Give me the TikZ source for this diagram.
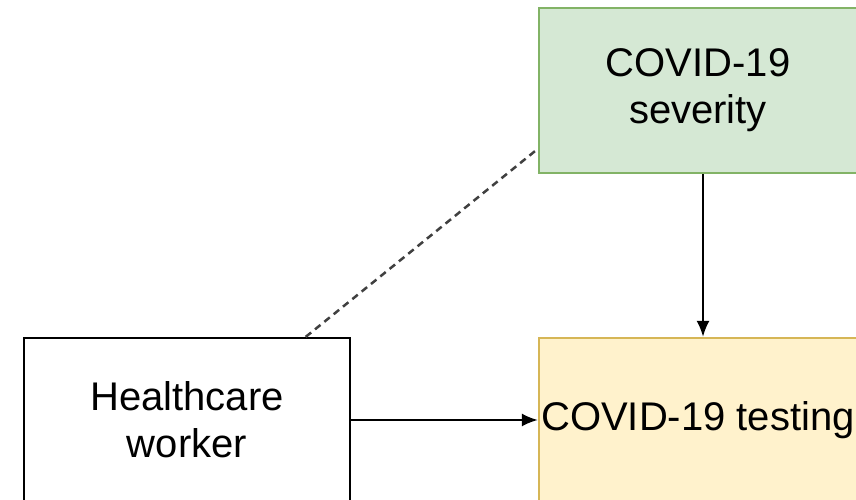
\documentclass[tikz,border=0pt]{standalone}
\usepackage{fontspec}
\setmainfont{Liberation Sans}
\usetikzlibrary{arrows.meta}
\definecolor{sevfill}{HTML}{D5E8D4}
\definecolor{sevline}{HTML}{82B366}
\definecolor{testfill}{HTML}{FFF2CC}
\definecolor{testline}{HTML}{D6B656}
\definecolor{dashgray}{HTML}{404040}

\begin{document}
\begin{tikzpicture}[x=1pt, y=1pt,
  every node/.style={font=\fontsize{40}{47}\selectfont, align=center},
  box/.style={draw, line width=2.2pt, minimum height=164pt, inner sep=0pt},
  arr/.style={-{Latex[length=16pt, width=13pt]}, line width=2.2pt}]
  \useasboundingbox (0,0) rectangle (856,500);
  \clip (0,0) rectangle (856,500);
  \node[box, draw=sevline, fill=sevfill, minimum width=318pt, minimum height=165pt] (sev) at (698,409.5) {COVID-19\\severity};
  \node[box, draw=testline, fill=testfill, minimum width=318pt] (test) at (698,80) {COVID-19 testing};
  \node[box, draw=black, fill=white, minimum width=326pt] (hw) at (187,80) {Healthcare\\worker};
  \draw[arr] ([xshift=5pt]sev.south) -- ([xshift=5pt]test.north);
  \draw[arr] (hw.east) -- (test.west);
  \draw[dashgray, line width=2.5pt, dash pattern=on 7pt off 5pt] (hw.35.5) -- (sev.200.5);
\end{tikzpicture}
\end{document}
